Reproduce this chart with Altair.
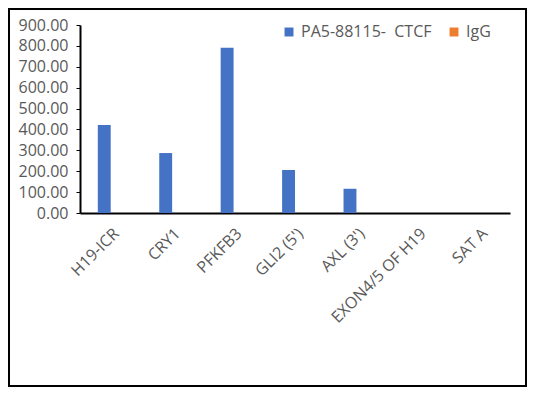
import altair as alt
import pandas as pd

categories = ["H19-ICR", "CRY1", "PFKFB3", "GLI2 (5')", "AXL (3')", "EXON4/5 OF H19", "SAT A"]
ctcf_values = [421, 287, 791, 206, 116, 0, 0]
igg_values = [0, 0, 0, 0, 0, 0, 0]
series_names = ["PA5-88115-\u00a0\u00a0CTCF", "IgG"]
series_colors = ["#4472C4", "#ED7D31"]
y_ticks = [0, 100, 200, 300, 400, 500, 600, 700, 800, 900]

rows = []
for c, a, b in zip(categories, ctcf_values, igg_values):
    rows.append({"cat": c, "series": series_names[0], "value": a})
    rows.append({"cat": c, "series": series_names[1], "value": b})
df = pd.DataFrame(rows)

FONT = "Open Sans"
GRAY = "#595959"

bars = alt.Chart(df).mark_bar().encode(
    x=alt.X("cat:N", sort=categories,
            scale=alt.Scale(paddingInner=0.58, paddingOuter=0.29),
            axis=alt.Axis(title=None, labelAngle=-45, ticks=False,
                          domainColor="black", domainWidth=2,
                          labelColor=GRAY, labelFont=FONT, labelFontSize=16,
                          labelPadding=12)),
    xOffset=alt.XOffset("series:N", sort=series_names),
    y=alt.Y("value:Q", scale=alt.Scale(domain=[0, 900], nice=False),
            axis=alt.Axis(title=None, values=y_ticks, format=".2f", grid=False,
                          domainColor="black", domainWidth=2,
                          tickColor="black", tickSize=4, tickWidth=1,
                          labelColor=GRAY, labelFont=FONT, labelFontSize=16,
                          labelPadding=8)),
    color=alt.Color("series:N", sort=series_names,
                    scale=alt.Scale(domain=series_names, range=series_colors),
                    legend=alt.Legend(title=None, orient="none", legendX=201, legendY=-1,
                                      direction="horizontal", symbolType="square",
                                      symbolSize=80, symbolStrokeWidth=0,
                                      labelFont=FONT, labelFontSize=16, labelColor=GRAY,
                                      columnPadding=14)),
)

border = alt.Chart(pd.DataFrame({"a": [0]})).mark_rect(
    fill=None, stroke="black", strokeWidth=2
).encode(
    x=alt.value(-71), x2=alt.value(446), y=alt.value(-16), y2=alt.value(361)
)

chart = alt.layer(bars, border).properties(
    width=430, height=188,
    autosize=alt.AutoSizeParams(type="none"),
    padding={"left": 72, "top": 17, "right": 17, "bottom": 174},
    background="white",
).configure_view(stroke=None)

chart.save("out.html", embed_options={"renderer": "svg", "actions": False})
